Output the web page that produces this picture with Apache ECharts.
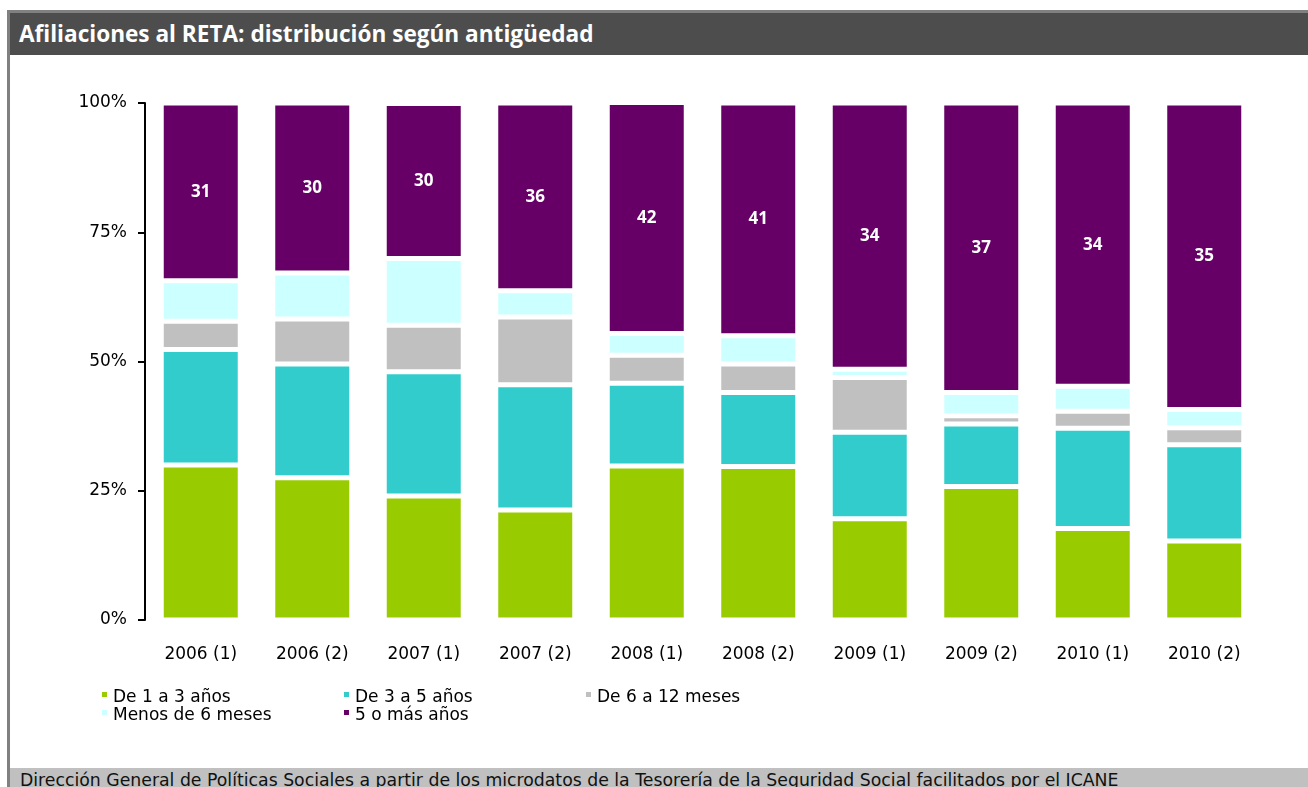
<!DOCTYPE html>
<html>
<head>
<meta charset="utf-8">
<script src="https://cdn.jsdelivr.net/npm/echarts@6/dist/echarts.min.js"></script>
<style>
  html, body { margin: 0; padding: 0; background: #fff; }
  .frame {
    position: absolute; left: 7px; top: 10px; width: 1301px; height: 777px;
    border-left: 3px solid #808080; border-top: 3px solid #808080;
    box-sizing: border-box;
  }
  .title {
    position: absolute; left: 0; top: 0; right: 0; height: 42px;
    background: #4d4d4d; color: #fff; font-weight: bold; font-size: 22.6px;
    font-family: "Open Sans", sans-serif;
    line-height: 42px; padding-left: 9px;
  }
  .footer {
    position: absolute; left: 0; bottom: 0; right: 0; height: 19px;
    background: #c0c0c0; color: #111; font-size: 17.3px; line-height: 25px;
    font-family: "DejaVu Sans", sans-serif;
    padding-left: 10px; overflow: hidden; white-space: nowrap;
  }
  #chart { position: absolute; left: 0; top: 0; width: 1308px; height: 787px; }
</style>
</head>
<body>
<div class="frame">
  <div class="title">Afiliaciones al RETA: distribución según antigüedad</div>
  <div class="footer">Dirección General de Políticas Sociales a partir de los microdatos de la Tesorería de la Seguridad Social facilitados por el ICANE</div>
</div>
<div id="chart"></div>
<script>
// periodos
const categories = ["2006 (1)", "2006 (2)", "2007 (1)", "2007 (2)", "2008 (1)", "2008 (2)", "2009 (1)", "2009 (2)", "2010 (1)", "2010 (2)"];

// % de la barra
const de1a3 = [30.0, 27.5, 24.0, 21.3, 29.8, 29.7, 19.6, 25.8, 17.7, 15.3];
const de3a5 = [22.3, 22.0, 24.0, 24.2, 16.0, 14.3, 16.7, 12.1, 19.4, 18.6];
const de6a12 = [5.5, 8.7, 9.0, 13.1, 5.4, 5.5, 10.6, 1.6, 3.3, 3.3];
const menos6 = [7.8, 8.9, 12.9, 5.1, 4.2, 5.5, 1.6, 4.5, 4.8, 3.5];
const masDe5 = [34.4, 32.9, 30.0, 36.3, 44.7, 45.0, 51.5, 56.0, 54.8, 59.3];

// etiquetas que muestra el gráfico sobre "5 o más años"
const etiquetas5 = [31, 30, 30, 36, 42, 41, 34, 37, 34, 35];

const yTicks = ["0%", "25%", "50%", "75%", "100%"];

const font = '"DejaVu Sans", sans-serif';

const seriesDef = [
  { name: "De 1 a 3 años", data: de1a3, color: "#99cc00" },
  { name: "De 3 a 5 años", data: de3a5, color: "#33cccc" },
  { name: "De 6 a 12 meses", data: de6a12, color: "#c0c0c0" },
  { name: "Menos de 6 meses", data: menos6, color: "#ccffff" },
  { name: "5 o más años", data: masDe5, color: "#660066" },
];

const legendPos = [
  { left: 95, top: 684 },
  { left: 337, top: 684 },
  { left: 579, top: 684 },
  { left: 95, top: 702 },
  { left: 337, top: 702 },
];

// cuadrado arriba, punto casi invisible abajo para subir la marca
const legendIcon = "path://M0,0L7,0L7,7L0,7Z M0,13L0.01,13L0.01,13.01Z";

const chart = echarts.init(document.getElementById("chart"));

chart.setOption({
  animation: false,
  color: seriesDef.map(s => s.color),
  grid: { left: 145, right: 48, top: 103, bottom: 167 },
  legend: seriesDef.map((s, i) => ({
    data: [s.name],
    left: legendPos[i].left,
    top: legendPos[i].top,
    icon: legendIcon,
    itemWidth: 7,
    itemHeight: 13,
    textStyle: { fontFamily: font, fontSize: 17, color: "#000" },
  })),
  xAxis: {
    type: "category",
    data: categories,
    axisLine: { show: false },
    axisTick: { show: false },
    axisLabel: { fontFamily: font, fontSize: 17, color: "#000", margin: 26 },
  },
  yAxis: {
    type: "value",
    min: 0,
    max: 100,
    interval: 25,
    splitLine: { show: false },
    axisLine: { show: true, lineStyle: { color: "#000", width: 2 } },
    axisTick: { show: true, length: 7, lineStyle: { color: "#000", width: 2 } },
    axisLabel: {
      fontFamily: font, fontSize: 17, color: "#000", margin: 18,
      formatter: v => yTicks[v / 25],
    },
  },
  series: seriesDef.map((s, i) => ({
    name: s.name,
    type: "bar",
    stack: "total",
    data: s.data,
    barWidth: 79,
    itemStyle: { color: s.color, borderColor: "#fff", borderWidth: 2.5 },
    label: i === 4 ? {
      show: true,
      position: "inside",
      color: "#fff",
      fontFamily: '"Open Sans", sans-serif',
      fontWeight: "bold",
      fontSize: 17,
      formatter: p => etiquetas5[p.dataIndex],
    } : { show: false },
  })),
});
</script>
</body>
</html>
